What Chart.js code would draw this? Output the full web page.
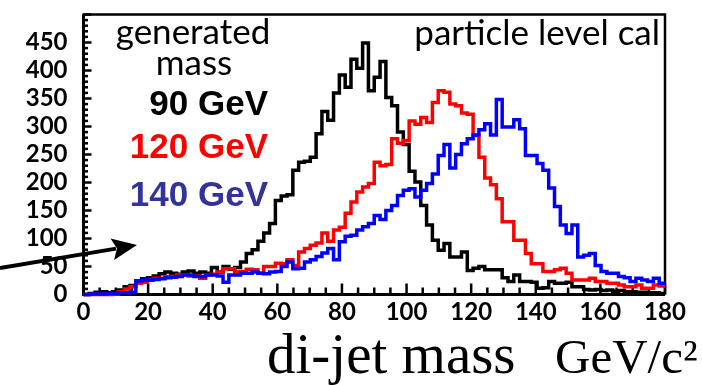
<!DOCTYPE html>
<html><head><meta charset="utf-8">
<script src="https://cdn.jsdelivr.net/npm/chart.js@4/dist/chart.umd.min.js"></script>
<style>html,body{margin:0;padding:0;background:#fff;overflow:hidden}#wrap{width:702px;height:385px;position:relative}</style>
</head><body><div id="wrap"><canvas id="c" width="702" height="385"></canvas></div>
<script>
// ---- data (counts per 1.8 GeV bin, 0-180 GeV) ----
const massRange = [0, 180];
const binCount = 100;
const seriesNames = ['90 GeV', '120 GeV', '140 GeV'];
const yTickLabels = [0, 50, 100, 150, 200, 250, 300, 350, 400, 450];
const xTickLabels = [0, 20, 40, 60, 80, 100, 120, 140, 160, 180];

const counts90 = [
  0,2,4,5,3,5,8,14,16,24,
  28,30,33,37,40,38,36,40,42,38,
  40,38,48,40,50,45,48,58,73,80,
  95,110,127,168,176,178,222,236,238,245,
  287,327,311,360,392,370,420,404,449,364,
  388,416,352,337,290,268,220,201,159,124,
  97,79,91,67,67,76,43,47,50,44,
  44,44,30,23,35,23,23,22,11,12,
  23,20,20,22,14,14,9,8,9,7,
  8,6,7,5,5,4,4,3,3,2];
const counts120 = [
  0,0,0,0,0,1,5,10,14,20,
  22,26,29,29,32,32,35,35,33,33,
  29,35,36,40,46,46,40,41,45,44,
  38,50,50,56,55,62,52,76,82,88,
  92,110,95,115,120,145,165,183,192,198,
  236,230,232,278,270,275,310,304,316,307,
  343,364,361,340,337,324,322,284,245,208,
  196,171,130,130,97,97,73,55,55,41,
  41,44,47,38,26,26,26,29,23,23,
  20,20,17,14,14,17,11,11,17,15];
const counts140 = [
  0,1,1,1,2,2,3,3,4,24,
  26,26,27,28,30,31,32,35,35,32,
  32,35,35,33,22,35,35,38,38,40,
  38,37,40,41,50,58,46,47,58,62,
  68,74,82,62,94,104,106,115,121,127,
  141,134,150,159,177,186,189,174,186,198,
  215,248,268,226,250,269,278,285,294,305,
  285,348,299,299,312,296,248,248,234,222,
  190,157,124,109,124,67,70,73,52,41,
  38,38,32,30,23,29,26,23,29,20];

const lineColors = ['#000000', '#ff0000', '#0000ff'];
const textColors = ['#000000', '#ff0000', '#333399'];

// bin edges
const binWidth = (massRange[1] - massRange[0]) / binCount;
const binEdges = Array.from({length: binCount + 1}, (_, i) => +(massRange[0] + i * binWidth).toFixed(2));

function histPoints(vals) {
  const pts = [];
  vals.forEach((v, k) => { pts.push({x: binEdges[k], y: v}); pts.push({x: binEdges[k + 1], y: v}); });
  return pts;
}

const allCounts = [counts90, counts120, counts140];

const framePlugin = {
  id: 'frame',
  beforeDatasetsDraw(chart) {
    const {ctx, chartArea: a, scales: {x, y}} = chart;
    ctx.save();
    ctx.strokeStyle = '#000';
    ctx.lineCap = 'butt';
    ctx.lineWidth = 2.5;
    ctx.beginPath(); ctx.moveTo(a.left - 1, a.top); ctx.lineTo(a.right, a.top); ctx.lineTo(a.right, a.bottom); ctx.stroke();
    ctx.lineWidth = 3;
    ctx.beginPath(); ctx.moveTo(a.left, a.top); ctx.lineTo(a.left, a.bottom); ctx.lineTo(a.right, a.bottom); ctx.stroke();
    ctx.lineWidth = 2.5;
    for (let v = y.min; v <= y.max; v += 10) {
      const py = y.getPixelForValue(v);
      const len = (v % 50 === 0) ? 8 : 4.5;
      ctx.beginPath(); ctx.moveTo(a.left, py); ctx.lineTo(a.left + len, py); ctx.stroke();
    }
    for (let v = x.min; v <= x.max; v += 5) {
      const px = x.getPixelForValue(v);
      const len = (v % 20 === 0) ? 11 : 7;
      ctx.beginPath(); ctx.moveTo(px, a.bottom); ctx.lineTo(px, a.bottom - len); ctx.stroke();
    }
    ctx.restore();
  },
  afterDraw(chart) {
    const {ctx} = chart;
    ctx.save();
    // legend block
    ctx.fillStyle = '#000';
    ctx.textAlign = 'center';
    ctx.textBaseline = 'alphabetic';
    ctx.font = '35px Lato';
    ctx.fillText('generated', 193, 44);
    ctx.fillText('mass', 194, 75);
    ctx.textAlign = 'right';
    ctx.font = 'bold 35px "Liberation Sans"';
    const baselines = [115, 158, 206];
    seriesNames.forEach((n, i) => { ctx.fillStyle = textColors[i]; ctx.fillText(n, 268, baselines[i]); });
    // label top right
    ctx.fillStyle = '#000';
    ctx.font = '35px Lato';
    ctx.fillText('particle level cal', 660, 45);
    // axis title
    ctx.textAlign = 'left';
    ctx.font = '57px "Liberation Serif"';
    ctx.fillText('di-jet mass', 267, 373);
    ctx.font = '49px "Liberation Serif"';
    ctx.fillText('GeV/c\u00b2', 555, 373);
    // arrow
    ctx.strokeStyle = '#000';
    ctx.lineWidth = 4;
    ctx.beginPath(); ctx.moveTo(0, 268); ctx.lineTo(116, 248.6); ctx.stroke();
    ctx.beginPath();
    ctx.moveTo(137, 245); ctx.lineTo(110.5, 238.4); ctx.lineTo(117, 248.4); ctx.lineTo(114.1, 260); ctx.closePath();
    ctx.fillStyle = '#000'; ctx.fill();
    ctx.restore();
  }
};

new Chart(document.getElementById('c'), {
  type: 'line',
  data: {
    datasets: allCounts.map((vals, i) => ({
      label: seriesNames[i],
      data: histPoints(vals),
      borderColor: lineColors[i],
      borderWidth: 3.5,
      pointRadius: 0,
      fill: false,
      tension: 0,
      clip: 6,
      order: 2 - i
    }))
  },
  options: {
    responsive: false,
    animation: false,
    devicePixelRatio: 1,
    layout: {padding: {top: 14.5, right: 37, left: 0, bottom: 0}},
    plugins: {legend: {display: false}, tooltip: {enabled: false}},
    scales: {
      x: {
        type: 'linear', min: massRange[0], max: massRange[1],
        afterBuildTicks: s => { s.ticks = xTickLabels.map(v => ({value: v})); },
        afterFit: s => { s.height = 90.5; s.paddingLeft = 0; s.paddingRight = 0; },
        grid: {display: false, drawTicks: false},
        border: {display: false},
        ticks: {color: '#000', font: {family: 'Lato', size: 24, weight: 'bold'}, padding: 3, maxRotation: 0, autoSkip: false}
      },
      y: {
        type: 'linear', min: 0, max: 500,
        afterBuildTicks: s => { s.ticks = yTickLabels.map(v => ({value: v})); },
        afterFit: s => { s.width = 83.5; s.paddingTop = 0; s.paddingBottom = 0; },
        grid: {display: false, drawTicks: false},
        border: {display: false},
        ticks: {color: '#000', font: {family: 'Lato', size: 24, weight: 'bold'}, padding: 16, autoSkip: false}
      }
    }
  },
  plugins: [framePlugin]
});
</script></body></html>
